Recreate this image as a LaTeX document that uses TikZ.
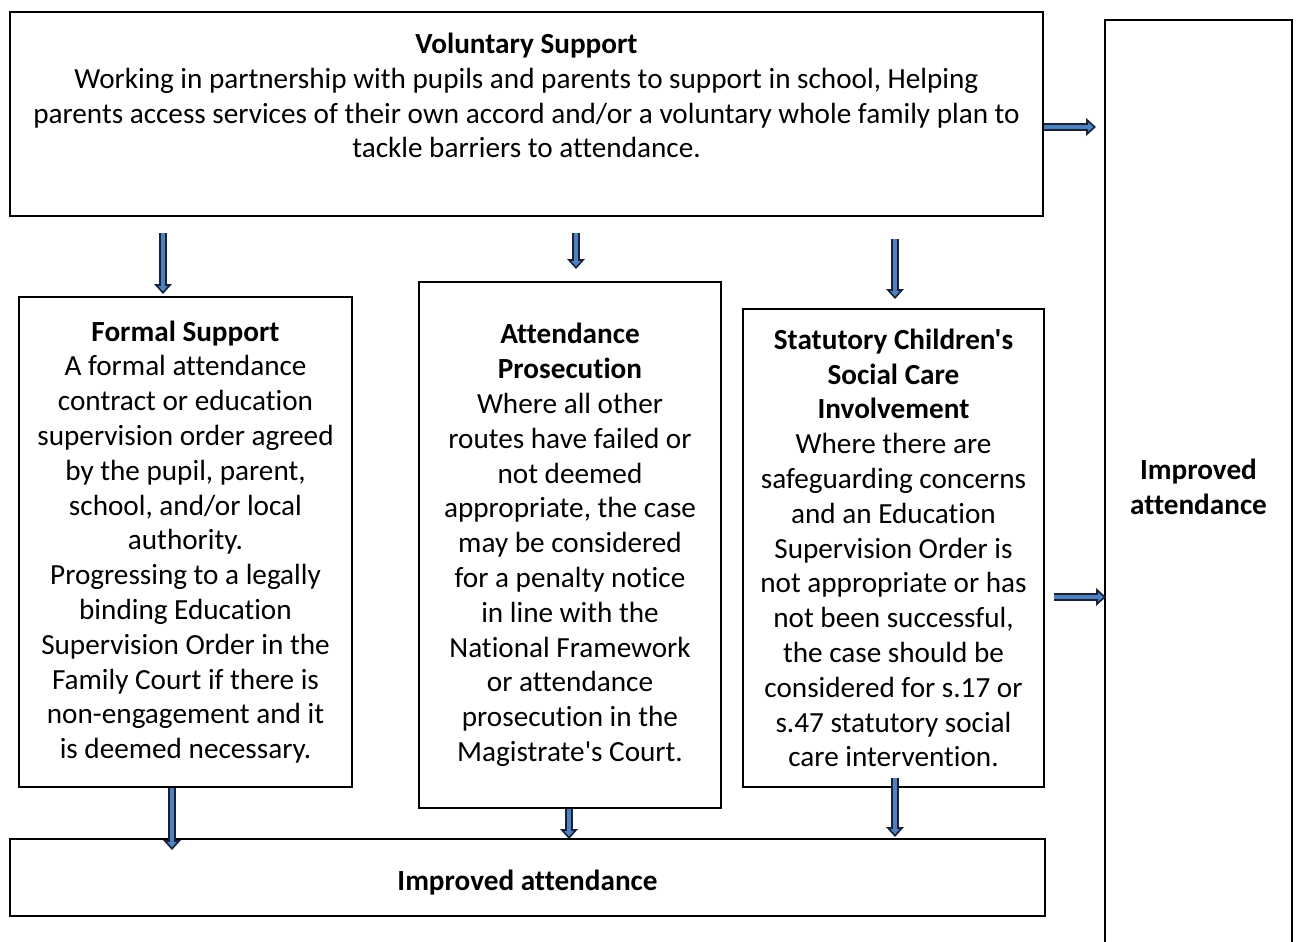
\documentclass[tikz,border=0pt]{standalone}
\usepackage{fontspec}
\setmainfont{Carlito}[Ligatures={TeXOff,NoCommon}]
\usetikzlibrary{arrows.meta}
\definecolor{arrowblue}{HTML}{4F81BD}
\definecolor{arrowdark}{HTML}{17223A}

\begin{document}
\begin{tikzpicture}[
	x=0.5pt, y=-0.5pt,
	every node/.style={font=\fontsize{14.6}{17.4}\selectfont},
	box/.style={draw, line width=1pt, inner sep=0pt, align=center},
	blockarrow/.style={draw=arrowblue, line width=1.8pt,
		-{Triangle[width=4.6pt,length=2.6pt,line width=0pt]}, shorten >=1.3pt,
		preaction={draw=arrowdark, line width=4.4pt, shorten >=0pt,
			-{Triangle[width=9pt,length=5pt,line width=0pt]}}}
	]
	\useasboundingbox (0,0) rectangle (1296,942);
	
	% Top box
	\node[box, minimum width=516.5pt, minimum height=102pt] (vol) at (526.5,114) {};
	\node[align=center, anchor=north] (voltext) at ([yshift=-7.5pt]vol.north)
	{\textbf{Voluntary Support}\\
		Working in partnership with pupils and parents to support in school, Helping\\
		parents access services of their own accord and/or a voluntary whole family plan to\\
		tackle barriers to attendance.};
	
	% Right column
	\node[box, minimum width=93.5pt, minimum height=467pt] (imp) at (1198.5,487)
	{\textbf{Improved}\\\textbf{attendance}};
	
	% Middle row
	\node[box, minimum width=166.5pt, minimum height=245pt] (fs) at (185.5,542)
	{\textbf{Formal Support}\\
		A formal attendance\\
		contract or education\\
		supervision order agreed\\
		by the pupil, parent,\\
		school, and/or local\\
		authority.\\
		Progressing to a legally\\
		binding Education\\
		Supervision Order in the\\
		Family Court if there is\\
		non-engagement and it\\
		is deemed necessary.};
	\node[box, minimum width=151pt, minimum height=263pt] (ap) at (570,545)
	{\textbf{Attendance}\\
		\textbf{Prosecution}\\
		Where all other\\
		routes have failed or\\
		not deemed\\
		appropriate, the case\\
		may be considered\\
		for a penalty notice\\
		in line with the\\
		National Framework\\
		or attendance\\
		prosecution in the\\
		Magistrate's Court.};
	\node[box, minimum width=150.5pt, minimum height=239pt] (sc) at (893.5,548)
	{\textbf{Statutory Children's}\\
		\textbf{Social Care}\\
		\textbf{Involvement}\\
		Where there are\\
		safeguarding concerns\\
		and an Education\\
		Supervision Order is\\
		not appropriate or has\\
		not been successful,\\
		the case should be\\
		considered for s.17 or\\
		s.47 statutory social\\
		care intervention.};
	
	% Bottom box
	\node[box, minimum width=517.5pt, minimum height=38.5pt] (ia) at (527.5,877.5)
	{\raisebox{-2.5pt}[\height][\depth]{\textbf{Improved attendance}}};
	
	% Arrows from the top box
	\draw[blockarrow] ([xshift=-11.25pt,yshift=-8pt]vol.south -| fs.north) -- ([xshift=-11.25pt,yshift=1pt]fs.north);
	\draw[blockarrow] ([xshift=3pt,yshift=-8pt]vol.south -| ap.north) -- ([xshift=3pt,yshift=6pt]ap.north);
	\draw[blockarrow] ([xshift=0.75pt,yshift=-11pt]vol.south -| sc.north) -- ([xshift=0.75pt,yshift=4.5pt]sc.north);
	\draw[blockarrow] ([yshift=-6.5pt]vol.east) -- ([xshift=-4pt,yshift=-6.5pt]vol.east -| imp.west);
	
	% Arrows to improved attendance
	\draw[blockarrow] ([xshift=4.5pt,yshift=-24.5pt]sc.east) -- ([xshift=1pt,yshift=-24.5pt]sc.east -| imp.west);
	\draw[blockarrow] ([xshift=-6.75pt]fs.south) -- ([xshift=-6.75pt,yshift=-6pt]fs.south |- ia.north);
	\draw[blockarrow] ([xshift=-0.5pt]ap.south) -- ([xshift=-0.5pt,yshift=-0.5pt]ap.south |- ia.north);
	\draw[blockarrow] ([xshift=0.75pt,yshift=5pt]sc.south) -- ([xshift=0.75pt,yshift=0.5pt]sc.south |- ia.north);
	
\end{tikzpicture}
\end{document}
